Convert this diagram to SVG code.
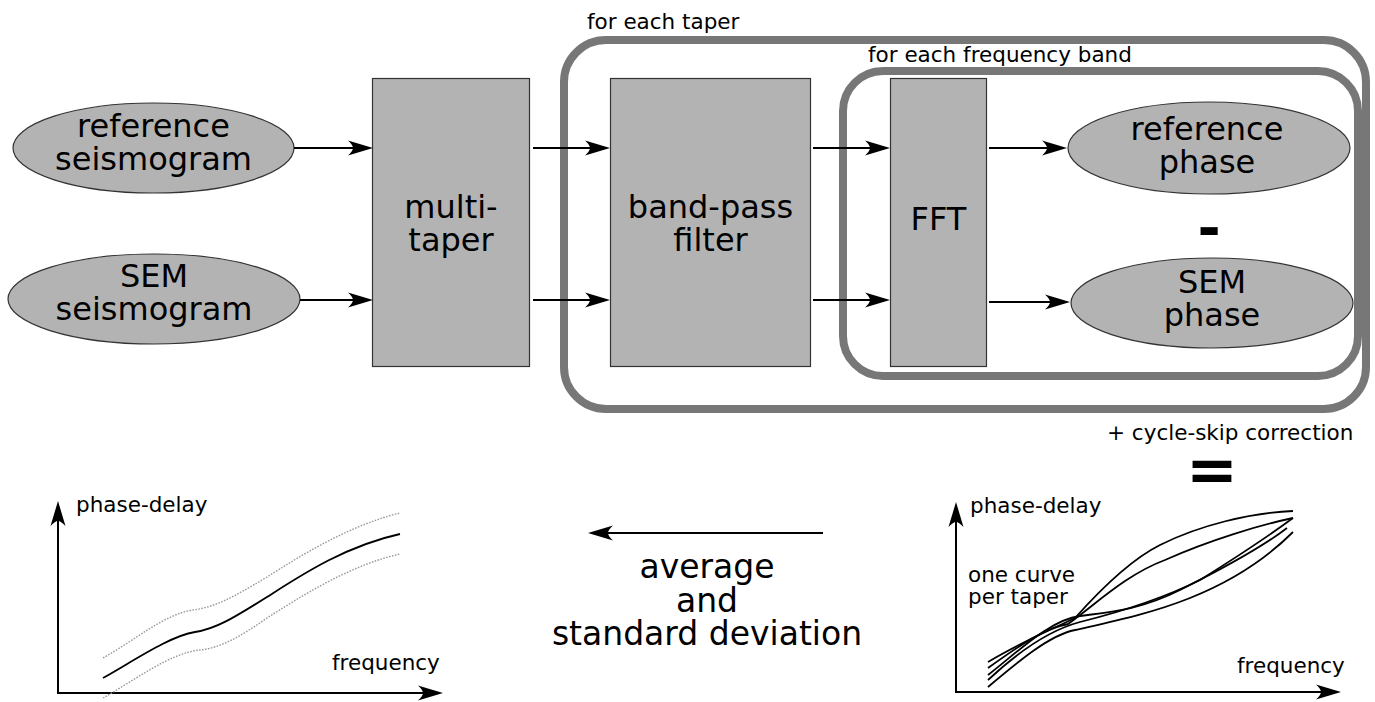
<svg xmlns="http://www.w3.org/2000/svg" width="1375" height="702" viewBox="0 0 1375 702">
<style>
text{font-family:"DejaVu Sans","Liberation Sans",sans-serif;fill:#000}
.big{font-size:32px;text-anchor:middle}
.small{font-size:21.5px}
.node{fill:#b3b3b3;stroke:#333;stroke-width:1.2}
.loop{fill:none;stroke:#777;stroke-width:8}
.arr{fill:none;stroke:#000;stroke-width:1.8;marker-end:url(#ah)}
.axis{fill:none;stroke:#000;stroke-width:2;marker-end:url(#ah)}
.curve{fill:none;stroke:#000;stroke-width:1.8}
.dot{fill:none;stroke:#9a9a9a;stroke-width:1.4;stroke-dasharray:1.6 1.4}
</style>
<defs>
<marker id="ah" viewBox="0 0 25 16" refX="21" refY="8" markerWidth="25" markerHeight="16" orient="auto" markerUnits="userSpaceOnUse">
<path d="M25,8 L0,0.5 C3.5,4 5,6 5,8 C5,10 3.5,12 0,15.5 Z" fill="#000"/>
</marker>
</defs>

<g id="loop-taper">
<rect class="loop" x="564" y="40" width="802" height="369" rx="42" ry="42"/>
<text class="small" x="587" y="29">for each taper</text>
</g>
<g id="loop-band">
<rect class="loop" x="843" y="71" width="515" height="305" rx="40" ry="40"/>
<text class="small" x="868" y="62">for each frequency band</text>
</g>

<g id="ref-seismogram">
<ellipse class="node" cx="153.5" cy="148" rx="140.5" ry="45"/>
<text class="big" x="153.5" y="137">reference</text>
<text class="big" x="153.5" y="170">seismogram</text>
</g>
<g id="sem-seismogram">
<ellipse class="node" cx="154" cy="299" rx="146" ry="45"/>
<text class="big" x="154" y="287">SEM</text>
<text class="big" x="154" y="320">seismogram</text>
</g>
<g id="multi-taper">
<rect class="node" x="372.5" y="78.5" width="157" height="288"/>
<text class="big" x="451" y="218">multi-</text>
<text class="big" x="451" y="251">taper</text>
</g>
<g id="band-pass">
<rect class="node" x="610.5" y="78.5" width="200" height="288"/>
<text class="big" x="710.5" y="218">band-pass</text>
<text class="big" x="710.5" y="251">filter</text>
</g>
<g id="fft">
<rect class="node" x="890.5" y="78.5" width="96" height="288"/>
<text class="big" x="938.5" y="230">FFT</text>
</g>
<g id="ref-phase">
<ellipse class="node" cx="1209" cy="148" rx="141" ry="46"/>
<text class="big" x="1207" y="140">reference</text>
<text class="big" x="1207" y="173">phase</text>
</g>
<g id="minus">
<text x="1209" y="247" style="font-size:56px;font-weight:bold;text-anchor:middle">-</text>
</g>
<g id="sem-phase">
<ellipse class="node" cx="1212" cy="303" rx="141" ry="45"/>
<text class="big" x="1212" y="293">SEM</text>
<text class="big" x="1212" y="326">phase</text>
</g>

<g id="connectors">
<line class="arr" x1="294" y1="148" x2="369" y2="148"/>
<line class="arr" x1="533" y1="148" x2="606" y2="148"/>
<line class="arr" x1="813" y1="148" x2="886" y2="148"/>
<line class="arr" x1="989" y1="148" x2="1063" y2="148"/>
<line class="arr" x1="300" y1="300" x2="369" y2="300"/>
<line class="arr" x1="533" y1="300" x2="606" y2="300"/>
<line class="arr" x1="813" y1="300" x2="886" y2="300"/>
<line class="arr" x1="989" y1="302" x2="1066" y2="302"/>
<line class="arr" x1="823" y1="533" x2="592" y2="533"/>
</g>

<g id="cycle-skip">
<text class="small" x="1107" y="440">+ cycle-skip correction</text>
<text x="1212" y="491" style="font-size:62px;font-weight:bold;text-anchor:middle">=</text>
</g>

<g id="average-label">
<text class="big" x="707" y="578" style="font-size:33px">average</text>
<text class="big" x="707" y="612" style="font-size:33px">and</text>
<text class="big" x="707" y="645" style="font-size:33px">standard deviation</text>
</g>

<g id="plot-average">
<path class="axis" d="M58,693 L58,505"/>
<path class="axis" d="M57,693 L439,693"/>
<text class="small" x="76" y="512">phase-delay</text>
<text class="small" x="332" y="670">frequency</text>
<path class="dot" d="M103,658 C135,640 165,614 193,610 C215,607 232,598 267,577 C300,556 350,525 400,513"/>
<path class="curve" d="M103,678 C135,660 170,636 195,632 C215,629 232,619 267,597 C300,576 345,546 400,534"/>
<path class="dot" d="M103,698 C135,680 170,653 200,650 C220,648 240,637 267,618 C300,597 350,565 400,554"/>
</g>

<g id="plot-tapers">
<path class="axis" d="M956,692 L956,506"/>
<path class="axis" d="M955,692 L1337,692"/>
<text class="small" x="970" y="513">phase-delay</text>
<text class="small" x="1237" y="673">frequency</text>
<text class="small" x="968" y="582">one curve</text>
<text class="small" x="968" y="604">per taper</text>
<path class="curve" d="M988,662 C1025,640 1055,628 1075,618 C1100,590 1130,560 1160,545 C1200,525 1250,513 1293,511"/>
<path class="curve" d="M988,668 C1020,645 1045,628 1068,624 C1095,605 1125,575 1165,560 C1210,540 1260,525 1293,518"/>
<path class="curve" d="M988,680 C1020,650 1050,630 1080,622 C1120,612 1160,600 1200,580 C1240,555 1270,535 1293,518"/>
<path class="curve" d="M988,675 C1020,650 1050,620 1080,616 C1110,612 1140,610 1180,590 C1230,565 1265,545 1287,528"/>
<path class="curve" d="M988,687 C1020,660 1050,635 1075,630 C1110,622 1150,614 1190,598 C1240,578 1270,555 1293,532"/>
</g>
</svg>
